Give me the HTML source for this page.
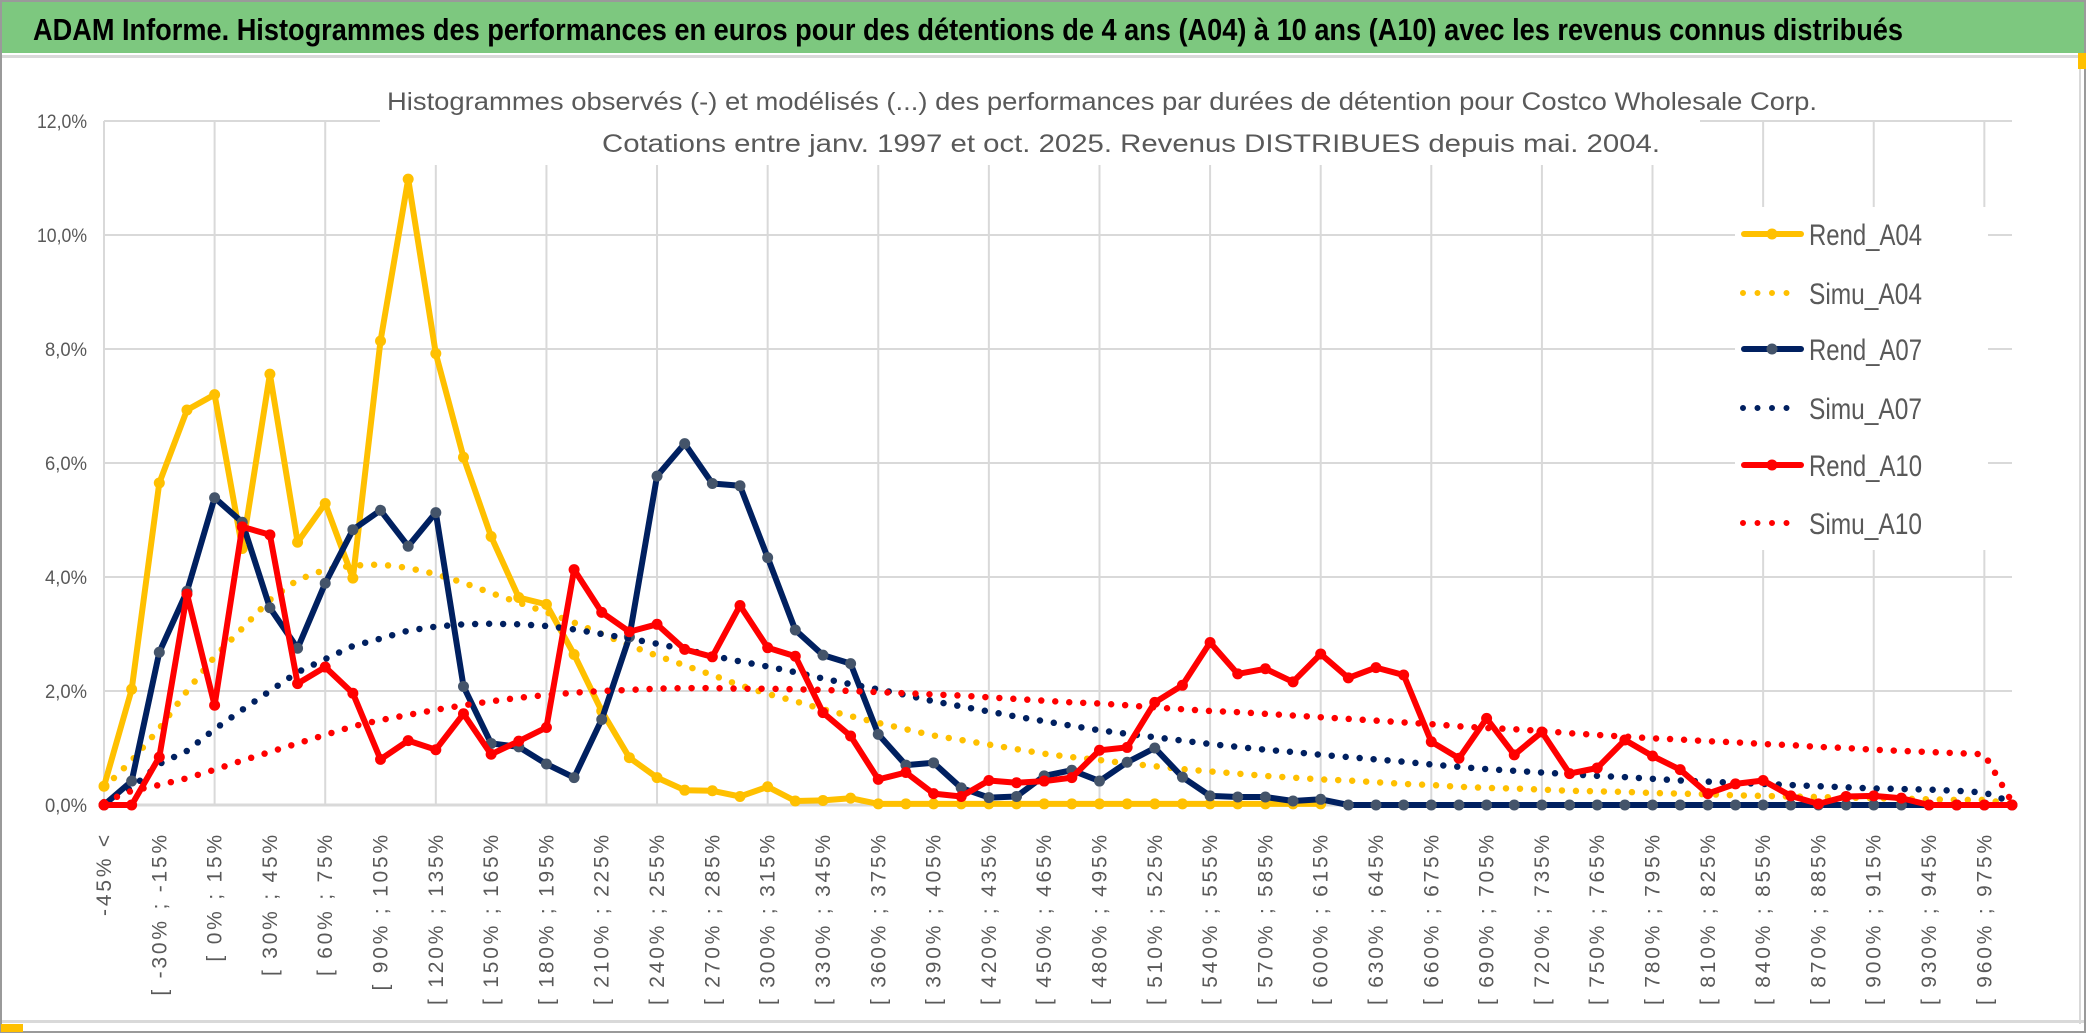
<!DOCTYPE html>
<html><head><meta charset="utf-8"><style>
html,body{margin:0;padding:0;background:#fff;}
svg{display:block;}
text{font-family:"Liberation Sans Narrow","Liberation Sans",sans-serif;}
</style></head><body>
<svg id="chart" width="2086" height="1033" viewBox="0 0 2086 1033" xmlns="http://www.w3.org/2000/svg">
<rect x="0" y="0" width="2086" height="1033" fill="#fff"/>
<rect x="1" y="1" width="2084" height="52" fill="#7dc87f"/>
<text x="33" y="40" font-size="31" font-weight="bold" fill="#000" textLength="1870" lengthAdjust="spacingAndGlyphs">ADAM Informe. Histogrammes des performances en euros pour des détentions de 4 ans (A04) à 10 ans (A10) avec les revenus connus distribués</text>
<rect x="0" y="55" width="2086" height="3" fill="#d9d9d9"/>
<rect x="2079" y="58" width="2" height="966" fill="#d9d9d9"/>
<rect x="0" y="1020" width="2086" height="3" fill="#d9d9d9"/>
<rect x="1" y="1" width="2084" height="1031" fill="none" stroke="#9a9a9a" stroke-width="2"/>
<rect x="1" y="1024" width="22" height="8" fill="#ffc000"/>
<rect x="2078" y="53" width="8" height="16" fill="#ffc000"/>
<g id="grid"></g>
<g id="yaxis"></g>
<g id="xaxis"></g>
<rect x="380" y="70" width="1320" height="95" fill="#fff"/>
<text x="387" y="110" font-size="25" fill="#595959" textLength="1430" lengthAdjust="spacingAndGlyphs">Histogrammes observés (-) et modélisés (...) des performances par durées de détention pour Costco Wholesale Corp.</text>
<text x="602" y="152" font-size="25" fill="#595959" textLength="1058" lengthAdjust="spacingAndGlyphs">Cotations entre janv. 1997 et oct. 2025. Revenus DISTRIBUES depuis mai. 2004.</text>
<g id="series"></g>
<g id="legend"></g>
</svg>
<script>
const categories = (function(){ const c=["-45% <"]; for(let k=1;k<70;k++){const lo=-45+15*(k-1); c.push("[ "+lo+"% ; "+(lo+15)+"%");} return c; })();
const yTicks = [0,2,4,6,8,10,12];
const yTickLabels = ["0,0%","2,0%","4,0%","6,0%","8,0%","10,0%","12,0%"];
const rendA04 = [0.33,2.03,5.65,6.93,7.2,4.5,7.56,4.61,5.29,3.98,8.14,10.98,7.92,6.1,4.71,3.64,3.52,2.64,1.65,0.83,0.48,0.26,0.25,0.15,0.32,0.07,0.08,0.12,0.02,0.02,0.02,0.02,0.02,0.02,0.02,0.02,0.02,0.02,0.02,0.02,0.02,0.02,0.02,0.02,0.02,null,null,null,null,null,null,null,null,null,null,null,null,null,null,null,null,null,null,null,null,null,null,null,null,null];
const simuA04 = [0.3,0.78,1.34,2.0,2.6,3.1,3.6,3.95,4.13,4.2,4.22,4.16,4.05,3.9,3.72,3.55,3.38,3.2,3.0,2.8,2.62,2.45,2.28,2.1,1.95,1.82,1.68,1.56,1.44,1.33,1.22,1.14,1.06,0.98,0.9,0.84,0.79,0.73,0.68,0.63,0.59,0.55,0.51,0.48,0.45,0.43,0.4,0.37,0.35,0.32,0.3,0.29,0.27,0.25,0.24,0.23,0.21,0.2,0.19,0.17,0.16,0.15,0.14,0.13,0.12,0.11,0.1,0.09,0.09,0.02];
const rendA07 = [0,0.42,2.68,3.75,5.39,4.96,3.46,2.75,3.89,4.83,5.17,4.54,5.13,2.08,1.08,1.02,0.72,0.48,1.5,2.95,5.77,6.34,5.64,5.6,4.34,3.07,2.63,2.48,1.24,0.7,0.74,0.3,0.13,0.15,0.51,0.61,0.42,0.75,1.0,0.49,0.16,0.14,0.14,0.07,0.1,0,0,0,0,0,0,0,0,0,0,0,0,0,0,0,0,0,0,0,0,0,0,0,0,0];
const simuA07 = [0.05,0.3,0.72,0.95,1.33,1.67,2.0,2.33,2.56,2.79,2.92,3.06,3.13,3.17,3.18,3.17,3.14,3.08,3.0,2.92,2.83,2.73,2.62,2.52,2.43,2.33,2.22,2.12,2.03,1.93,1.82,1.73,1.64,1.55,1.47,1.39,1.31,1.25,1.19,1.13,1.07,1.02,0.97,0.93,0.88,0.84,0.8,0.76,0.71,0.67,0.63,0.6,0.57,0.54,0.51,0.49,0.46,0.43,0.41,0.39,0.37,0.35,0.33,0.31,0.29,0.28,0.27,0.25,0.22,0.05];
const rendA10 = [0,0,0.84,3.7,1.75,4.88,4.74,2.13,2.42,1.96,0.8,1.13,0.97,1.6,0.89,1.12,1.36,4.13,3.38,3.04,3.17,2.73,2.6,3.5,2.76,2.61,1.62,1.21,0.45,0.57,0.2,0.15,0.43,0.39,0.42,0.48,0.96,1.01,1.8,2.1,2.85,2.3,2.39,2.16,2.65,2.23,2.41,2.28,1.11,0.82,1.52,0.88,1.28,0.55,0.65,1.14,0.86,0.62,0.2,0.37,0.43,0.16,0.02,0.15,0.16,0.12,0,0,0,0];
const simuA10 = [0.05,0.25,0.35,0.47,0.62,0.78,0.93,1.08,1.23,1.38,1.49,1.58,1.67,1.75,1.82,1.88,1.93,1.97,2.0,2.02,2.04,2.05,2.05,2.04,2.04,2.03,2.02,2.0,1.98,1.96,1.94,1.92,1.89,1.86,1.83,1.8,1.78,1.75,1.71,1.68,1.65,1.63,1.6,1.57,1.54,1.51,1.48,1.45,1.42,1.38,1.35,1.33,1.3,1.26,1.23,1.2,1.17,1.15,1.12,1.1,1.07,1.05,1.02,1.0,0.97,0.95,0.93,0.91,0.89,0.05];
const seriesNames = ["Rend_A04","Simu_A04","Rend_A07","Simu_A07","Rend_A10","Simu_A10"];

const NS="http://www.w3.org/2000/svg";
const X0=104, X1=2012, Y0=805, Y1=121, YMAX=12;
function xs(i){ return X0 + (X1-X0)*i/(categories.length-1); }
function ys(v){ return Y0 - (Y0-Y1)*v/YMAX; }
function mk(tag, attrs, parent){ const e=document.createElementNS(NS,tag); for(const k in attrs) e.setAttribute(k, attrs[k]); parent.appendChild(e); return e; }

const grid=document.getElementById('grid');
yTicks.forEach((t,k)=>{
  const l=mk('line',{x1:X0,x2:X1,y1:ys(t),y2:ys(t),stroke:'#d9d9d9','stroke-width':(t===0?3:2)},grid);
  
  
});
for(let i=0;i<categories.length;i+=4){
  const l=mk('line',{x1:xs(i),x2:xs(i),y1:Y1,y2:Y0,stroke:'#d9d9d9','stroke-width':2},grid);
  
  
}
const yax=document.getElementById('yaxis');
yTicks.forEach((t,k)=>{
  const tx=mk('text',{x:87,y:ys(t)+7,'text-anchor':'end','font-size':19,fill:'#595959',textLength:(yTickLabels[k].length>4?50:42),lengthAdjust:'spacingAndGlyphs'},yax);
  tx.textContent=yTickLabels[k];
  
  
});
const xax=document.getElementById('xaxis');
categories.forEach((c,i)=>{
  if(i%2!==0) return;
  const x=xs(i)+7, y=832;
  const tx=mk('text',{x:x,y:y,'text-anchor':'end','font-size':21,'letter-spacing':'2.8',fill:'#595959',transform:'rotate(-90 '+x+' '+y+')',style:'font-family:"Liberation Sans",sans-serif'},xax);
  tx.textContent=c;
  
  
});

const ser=document.getElementById('series');
function pathFor(vals){
  let d='', pen=false;
  vals.forEach((v,i)=>{ if(v===null){pen=false;return;} d+=(pen?'L':'M')+xs(i).toFixed(1)+' '+ys(v).toFixed(1)+' '; pen=true; });
  return d;
}
function solid(vals,color,mcolor,name){
  const g=mk('g',{},ser);
  
  
  const p=mk('path',{d:pathFor(vals),fill:'none',stroke:color,'stroke-width':6,'stroke-linejoin':'round','stroke-linecap':'round'},g);
  
  
  vals.forEach((v,i)=>{ if(v===null) return;
    const c=mk('circle',{cx:xs(i),cy:ys(v),r:5.5,fill:mcolor},g);
    
    
  });
}
function dotted(vals,color,name){
  const p=mk('path',{d:pathFor(vals),fill:'none',stroke:color,'stroke-width':6.5,'stroke-linecap':'round','stroke-dasharray':'0 14'},ser);
  
  
}
solid(rendA04,'#ffc000','#ffc000','rend-a04');
dotted(simuA04,'#ffc000','simu-a04');
solid(rendA07,'#002060','#44546a','rend-a07');
dotted(simuA07,'#002060','simu-a07');
solid(rendA10,'#ff0000','#ff0000','rend-a10');
dotted(simuA10,'#ff0000','simu-a10');

const leg=document.getElementById('legend');
mk('rect',{x:1735,y:207,width:253,height:343,fill:'#fff'},leg);
const legColors=['#ffc000','#ffc000','#002060','#002060','#ff0000','#ff0000'];
const legMarker=['#ffc000',null,'#44546a',null,'#ff0000',null];
const legY=[234,293,349,408,465,523];
seriesNames.forEach((n,k)=>{
  const g=mk('g',{},leg);
  
  
  const y=legY[k];
  if(legMarker[k]){
    mk('line',{x1:1744,x2:1801,y1:y,y2:y,stroke:legColors[k],'stroke-width':6,'stroke-linecap':'round'},g);
    mk('circle',{cx:1772,cy:y,r:5.5,fill:legMarker[k]},g);
  } else {
    mk('line',{x1:1743,x2:1795,y1:y,y2:y,stroke:legColors[k],'stroke-width':6,'stroke-linecap':'round','stroke-dasharray':'0 14.5'},g);
  }
  const t=mk('text',{x:1809,y:y+11,'font-size':30,fill:'#595959',textLength:113,lengthAdjust:'spacingAndGlyphs'},g);
  t.textContent=n;
});
</script>
</body></html>
